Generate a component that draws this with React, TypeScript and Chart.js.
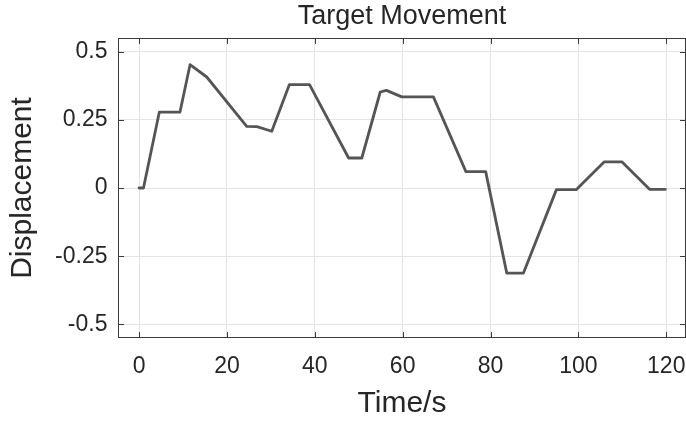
import React, { useEffect, useRef } from 'react';
import { Chart, registerables } from 'chart.js';

Chart.register(...registerables);

const titleText = 'Target Movement';
const xAxisLabel = 'Time/s';
const yAxisLabel = 'Displacement';

const timeValues = [0, 1, 4.6, 9.3, 11.6, 15.4, 24.5, 26.8, 30.2, 34.2, 38.8, 47.7, 50.7, 54.9, 56.3, 59.8, 67, 74.4, 78.9, 83.7, 87.5, 95, 99.5, 105.9, 109.9, 116.2, 119.8];
const displacementValues = [0, 0, 0.278, 0.278, 0.452, 0.407, 0.226, 0.225, 0.208, 0.379, 0.379, 0.11, 0.11, 0.352, 0.358, 0.334, 0.334, 0.06, 0.06, -0.312, -0.312, -0.006, -0.006, 0.096, 0.096, -0.005, -0.005];

const xTickValues = [0, 20, 40, 60, 80, 100, 120];
const xTickLabels = ['0', '20', '40', '60', '80', '100', '120'];
const yTickValues = [-0.5, -0.25, 0, 0.25, 0.5];
const yTickLabels = ['-0.5', '-0.25', '0', '0.25', '0.5'];

const FONT = '"Liberation Sans", Arial, Helvetica, sans-serif';
const TEXT = '#262626';

const boxPlugin = {
  id: 'matlabBox',
  afterDraw(chart: any) {
    const { ctx, chartArea } = chart;
    const { left, right, top, bottom } = chartArea;
    const xs = chart.scales.x;
    const ys = chart.scales.y;
    const tl = 5;
    ctx.save();
    ctx.strokeStyle = '#3a3a3a';
    ctx.lineWidth = 1;
    ctx.strokeRect(left + 0.5, top + 0.5, right - left - 1, bottom - top - 1);
    ctx.beginPath();
    xTickValues.forEach((v) => {
      const px = Math.round(xs.getPixelForValue(v)) + 0.5;
      ctx.moveTo(px, bottom - 1);
      ctx.lineTo(px, bottom - 1 - tl);
      ctx.moveTo(px, top + 1);
      ctx.lineTo(px, top + 1 + tl);
    });
    yTickValues.forEach((v) => {
      const py = Math.round(ys.getPixelForValue(v)) + 0.5;
      ctx.moveTo(left + 1, py);
      ctx.lineTo(left + 1 + tl, py);
      ctx.moveTo(right - 1, py);
      ctx.lineTo(right - 1 - tl, py);
    });
    ctx.stroke();
    ctx.restore();
  },
};

export default function App() {
  const canvasRef = useRef<HTMLCanvasElement | null>(null);

  useEffect(() => {
    const canvas = canvasRef.current;
    if (!canvas) return;
    const chart = new Chart(canvas, {
      type: 'line',
      data: {
        datasets: [
          {
            data: timeValues.map((t, i) => ({ x: t, y: displacementValues[i] })),
            borderColor: '#555555',
            borderWidth: 2.8,
            pointRadius: 0,
            borderJoinStyle: 'round',
            borderCapStyle: 'round',
            tension: 0,
            fill: false,
          },
        ],
      },
      options: {
        animation: false,
        responsive: false,
        devicePixelRatio: 1,
        layout: { padding: 0 },
        plugins: {
          legend: { display: false },
          tooltip: { enabled: false },
          title: {
            display: true,
            text: titleText,
            fullSize: false,
            color: TEXT,
            font: { family: FONT, size: 27, weight: 'normal', lineHeight: 1.2 },
            padding: { top: 0.8, bottom: 4.8 },
          },
        },
        scales: {
          x: {
            type: 'linear',
            min: -4.8,
            max: 124.5,
            afterBuildTicks: (scale: any) => {
              scale.ticks = xTickValues.map((v) => ({ value: v }));
            },
            afterFit: (scale: any) => {
              scale.height = 85;
              scale.paddingLeft = 0;
              scale.paddingRight = 0;
            },
            ticks: {
              autoSkip: false,
              maxRotation: 0,
              padding: 14.7,
              color: TEXT,
              font: { family: FONT, size: 23 },
              callback: (v: any) => {
                const i = xTickValues.indexOf(Number(v));
                return i >= 0 ? xTickLabels[i] : '';
              },
            },
            grid: { color: '#e3e3e3', lineWidth: 1, drawTicks: false },
            border: { display: false },
            title: {
              display: true,
              text: xAxisLabel,
              color: TEXT,
              font: { family: FONT, size: 30, lineHeight: 1.2 },
              padding: { top: 0, bottom: 1.5 },
            },
          },
          y: {
            type: 'linear',
            min: -0.55,
            max: 0.55,
            afterBuildTicks: (scale: any) => {
              scale.ticks = yTickValues.map((v) => ({ value: v }));
            },
            afterFit: (scale: any) => {
              scale.width = 118;
              scale.paddingTop = 0;
              scale.paddingBottom = 0;
            },
            ticks: {
              autoSkip: false,
              padding: 10.5,
              color: TEXT,
              font: { family: FONT, size: 23 },
              callback: (v: any) => {
                const i = yTickValues.indexOf(Number(v));
                return i >= 0 ? yTickLabels[i] : '';
              },
            },
            grid: { color: '#e3e3e3', lineWidth: 1, drawTicks: false },
            border: { display: false },
            title: {
              display: true,
              text: yAxisLabel,
              color: TEXT,
              font: { family: FONT, size: 30, lineHeight: 1.2 },
              padding: { top: 4.5, bottom: 0 },
            },
          },
        },
      },
      plugins: [boxPlugin],
    });
    return () => chart.destroy();
  }, []);

  return (
    <div style={{ position: 'fixed', left: 0, top: 0, width: 686, height: 423, background: '#ffffff' }}>
      <canvas ref={canvasRef} width={686} height={423} style={{ display: 'block', width: 686, height: 423 }} />
    </div>
  );
}
